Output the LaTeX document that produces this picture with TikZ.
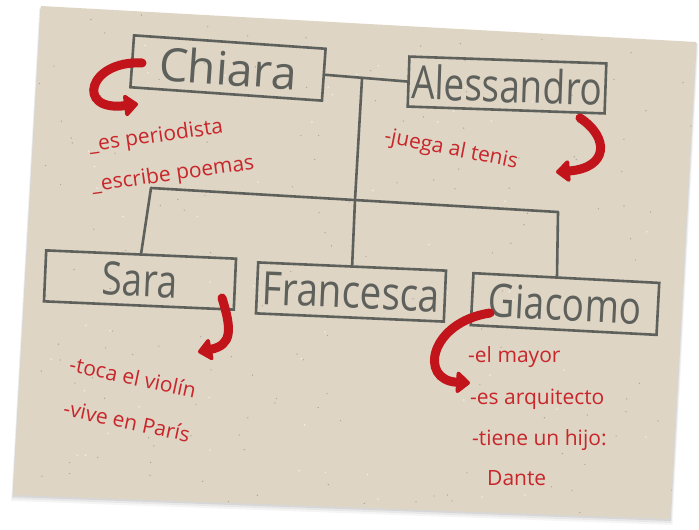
\documentclass[tikz,border=0pt]{standalone}
\usepackage{fontspec}
\setmainfont{Open Sans}
\usetikzlibrary{arrows.meta,calc}
\definecolor{paper}{HTML}{DED5C4}
\definecolor{ink}{HTML}{5E605C}
\definecolor{redink}{HTML}{C2141B}
\definecolor{redtxt}{HTML}{C8262B}
\begin{document}
\begin{tikzpicture}[x=1pt,y=-1pt,
  namebox/.style={draw=ink,line width=2.6pt,inner sep=0pt,text=ink,font=\fontsize{46}{46}\selectfont},
  link/.style={draw=ink,line width=2.6pt,line cap=round},
  hook/.style={draw=redink,line width=9pt,line cap=round,-{Triangle[length=15pt,width=25pt,round]}},
  note/.style={text=redtxt,font=\fontsize{21}{21}\selectfont,inner sep=0pt}
]
\useasboundingbox (0,0) rectangle (699,530);
\fill[white] (0,0) rectangle (699,530);
% paper shadow
\foreach \o/\op in {6/0.04,4/0.05,2/0.07}{
  \fill[black,opacity=\op] (41-\o*0.3,6+\o*0.5) -- (696+\o*0.4,42+\o*0.3) -- (670+\o*0.4,519+\o) -- (13-\o*0.3,495+\o) -- cycle;
}
\fill[paper] (41,6) -- (696,42) -- (670,519) -- (13,495) -- cycle;
% speckles
\begin{scope}
\clip (41,6) -- (696,42) -- (670,519) -- (13,495) -- cycle;
\pgfmathsetseed{7}
\foreach \i in {1,...,160}{
  \pgfmathsetmacro{\px}{20+680*rnd}
  \pgfmathsetmacro{\py}{10+510*rnd}
  \fill[black!45!paper,opacity=0.5] (\px,\py) circle (0.7pt);
}
\foreach \i in {1,...,60}{
  \pgfmathsetmacro{\px}{20+680*rnd}
  \pgfmathsetmacro{\py}{10+510*rnd}
  \fill[white,opacity=0.6] (\px,\py) circle (0.9pt);
}
\end{scope}

% name boxes
\node[namebox,minimum width=192pt,minimum height=52pt,rotate=-4] (chiara) at (228,68) {Chiara};
\node[namebox,minimum width=197pt,minimum height=50pt,rotate=-2] (ales) at (507,85) {\scalebox{0.8}[1]{Alessandro}};
\node[namebox,minimum width=190pt,minimum height=51pt,rotate=-2.5] (sara) at (140,280) {\scalebox{0.8}[1]{Sara}};
\node[namebox,minimum width=188pt,minimum height=51pt,rotate=-2.5] (fran) at (351,292) {\scalebox{0.84}[1]{Francesca}};
\node[namebox,minimum width=186pt,minimum height=52pt,rotate=-3] (giac) at (565,304) {\scalebox{0.8}[1]{Giacomo}};

% tree lines
\coordinate (m) at ($(chiara.east)!0.45!(ales.west)$);
\coordinate (bl) at (151,188);
\coordinate (bm) at (355,200);
\coordinate (br) at (558,212);
\coordinate (gtop) at ($(giac.north west)!0.45!(giac.north east)$);
\draw[link] (chiara.east) -- (ales.west);
\draw[link] (m) -- (bm);
\draw[link] (bl) -- (br);
\draw[link] (bl) -- (sara.north);
\draw[link] (bm) -- (fran.north);
\draw[link] (br) -- (gtop);

% notes
\node[note,rotate=8] (n1) at (156,137) {\_es periodista};
\node[note,rotate=8] (n2) at (173,175) {\_escribe poemas};
\node[note,rotate=-11] (n3) at (451,150) {-juega al tenis};
\node[note,rotate=-12] (n4) at (133,377) {-toca el violín};
\node[note,rotate=-12] (n5) at (127,421) {-vive en París};
\node[note,anchor=west] (n6) at (468,357) {-el mayor};
\node[note,anchor=west] (n7) at (470,399) {-es arquitecto};
\node[note,anchor=west] (n8) at (472,440) {-tiene un hijo:};
\node[note,anchor=west] (n9) at (487,478) {Dante};

% red hooks
\coordinate (a1s) at (142,63);  \coordinate (a1e) at (138,104);
\coordinate (a2s) at (580,118); \coordinate (a2e) at (556,172);
\coordinate (a3s) at (222,298); \coordinate (a3e) at (198,352);
\coordinate (a4s) at (490,313); \coordinate (a4e) at (470,383);
\draw[hook] (a1s) .. controls (88,60) and (75,112) .. (a1e);
\draw[hook] (a2s) .. controls (610,138) and (608,168) .. (a2e);
\draw[hook] (a3s) .. controls (232,330) and (232,345) .. (a3e);
\draw[hook] (a4s) .. controls (430,322) and (418,380) .. (a4e);
\end{tikzpicture}
\end{document}
